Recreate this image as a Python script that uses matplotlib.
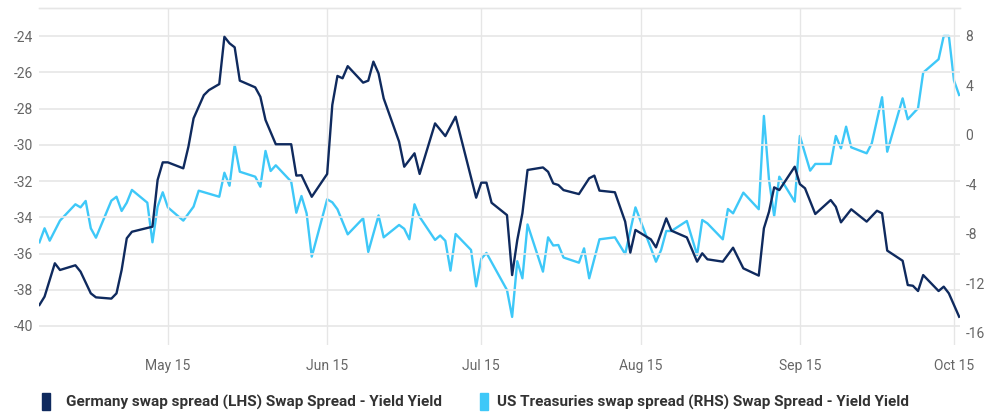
import matplotlib
matplotlib.use("Agg")
import matplotlib.pyplot as plt
import matplotlib.dates as mdates
from matplotlib.patches import Rectangle
import pandas as pd

germany_dates = [
    "2015-04-20", "2015-04-21", "2015-04-23", "2015-04-24", "2015-04-27", "2015-04-28",
    "2015-04-30", "2015-05-01", "2015-05-04", "2015-05-05", "2015-05-06", "2015-05-07",
    "2015-05-08", "2015-05-12", "2015-05-13", "2015-05-14", "2015-05-15", "2015-05-18",
    "2015-05-19", "2015-05-20", "2015-05-22", "2015-05-23", "2015-05-25", "2015-05-26",
    "2015-05-27", "2015-05-28", "2015-05-29", "2015-06-01", "2015-06-02", "2015-06-03",
    "2015-06-05", "2015-06-08", "2015-06-09", "2015-06-10", "2015-06-12", "2015-06-15",
    "2015-06-16", "2015-06-17", "2015-06-18", "2015-06-19", "2015-06-22", "2015-06-23",
    "2015-06-24", "2015-06-25", "2015-06-26", "2015-06-29", "2015-06-30", "2015-07-02",
    "2015-07-03", "2015-07-06", "2015-07-08", "2015-07-10", "2015-07-14", "2015-07-15",
    "2015-07-16", "2015-07-17", "2015-07-20", "2015-07-21", "2015-07-22", "2015-07-23",
    "2015-07-24", "2015-07-27", "2015-07-28", "2015-07-29", "2015-07-30", "2015-07-31",
    "2015-08-03", "2015-08-05", "2015-08-06", "2015-08-07", "2015-08-10", "2015-08-12",
    "2015-08-13", "2015-08-14", "2015-08-17", "2015-08-18", "2015-08-20", "2015-08-21",
    "2015-08-24", "2015-08-26", "2015-08-27", "2015-08-28", "2015-08-31", "2015-09-02",
    "2015-09-04", "2015-09-07", "2015-09-08", "2015-09-09", "2015-09-10", "2015-09-11",
    "2015-09-14", "2015-09-15", "2015-09-16", "2015-09-18", "2015-09-21", "2015-09-22",
    "2015-09-23", "2015-09-25", "2015-09-28", "2015-09-30", "2015-10-01", "2015-10-02",
    "2015-10-05", "2015-10-06", "2015-10-07", "2015-10-08", "2015-10-09", "2015-10-12",
    "2015-10-13", "2015-10-14", "2015-10-16",
]
germany_values = [
    -38.84, -38.38, -36.54, -36.91, -36.65, -37.00,
    -38.20, -38.42, -38.49, -38.20, -36.91, -35.16,
    -34.80, -34.52, -31.94, -30.97, -30.97, -31.30,
    -30.10, -28.54, -27.26, -26.98, -26.65, -24.04,
    -24.40, -24.62, -26.46, -26.83, -27.35, -28.63,
    -29.97, -29.97, -31.70, -31.68, -32.87, -31.61,
    -27.80, -26.20, -26.33, -25.66, -26.57, -26.46,
    -25.41, -26.06, -27.44, -29.83, -31.21, -30.47,
    -31.61, -28.82, -29.52, -28.45, -32.92, -32.09,
    -32.09, -33.20, -33.88, -37.19, -35.26, -33.78,
    -31.39, -31.25, -31.49, -32.13, -32.22, -32.50,
    -32.72, -31.85, -31.70, -32.53, -32.62, -34.24,
    -35.95, -34.70, -35.22, -35.66, -34.06, -34.74,
    -35.11, -36.45, -35.99, -36.32, -36.45, -35.68,
    -36.82, -37.22, -34.61, -33.69, -32.35, -32.50,
    -31.21, -32.17, -32.40, -33.82, -33.05, -33.42,
    -34.28, -33.56, -34.24, -33.64, -33.78, -35.84,
    -36.40, -37.74, -37.78, -38.07, -37.19, -38.07,
    -37.83, -38.20, -39.49,
]

us_dates = [
    "2015-04-20", "2015-04-21", "2015-04-22", "2015-04-24", "2015-04-27", "2015-04-28",
    "2015-04-29", "2015-04-30", "2015-05-01", "2015-05-04", "2015-05-05", "2015-05-06",
    "2015-05-07", "2015-05-08", "2015-05-11", "2015-05-12", "2015-05-13", "2015-05-14",
    "2015-05-15", "2015-05-18", "2015-05-20", "2015-05-21", "2015-05-25", "2015-05-26",
    "2015-05-27", "2015-05-28", "2015-05-29", "2015-06-01", "2015-06-02", "2015-06-03",
    "2015-06-04", "2015-06-05", "2015-06-08", "2015-06-09", "2015-06-10", "2015-06-11",
    "2015-06-12", "2015-06-15", "2015-06-16", "2015-06-17", "2015-06-19", "2015-06-22",
    "2015-06-23", "2015-06-25", "2015-06-26", "2015-06-29", "2015-06-30", "2015-07-01",
    "2015-07-02", "2015-07-03", "2015-07-06", "2015-07-07", "2015-07-08", "2015-07-09",
    "2015-07-10", "2015-07-13", "2015-07-14", "2015-07-15", "2015-07-16", "2015-07-20",
    "2015-07-21", "2015-07-22", "2015-07-23", "2015-07-24", "2015-07-27", "2015-07-28",
    "2015-07-29", "2015-07-30", "2015-07-31", "2015-08-03", "2015-08-04", "2015-08-05",
    "2015-08-07", "2015-08-10", "2015-08-12", "2015-08-14", "2015-08-18", "2015-08-19",
    "2015-08-20", "2015-08-21", "2015-08-24", "2015-08-26", "2015-08-27", "2015-08-28",
    "2015-08-31", "2015-09-01", "2015-09-02", "2015-09-04", "2015-09-07", "2015-09-08",
    "2015-09-09", "2015-09-10", "2015-09-11", "2015-09-12", "2015-09-14", "2015-09-15",
    "2015-09-16", "2015-09-17", "2015-09-18", "2015-09-21", "2015-09-22", "2015-09-23",
    "2015-09-24", "2015-09-25", "2015-09-28", "2015-09-29", "2015-10-01", "2015-10-02",
    "2015-10-05", "2015-10-06", "2015-10-08", "2015-10-09", "2015-10-12", "2015-10-13",
    "2015-10-14", "2015-10-15", "2015-10-16",
]
us_values = [
    -8.67, -7.54, -8.54, -6.92, -5.60, -5.85,
    -5.33, -7.54, -8.30, -5.31, -4.99, -6.14,
    -5.47, -4.44, -5.47, -8.67, -5.79, -4.63,
    -5.85, -6.92, -5.79, -4.50, -4.99, -3.05,
    -4.10, -0.81, -2.97, -3.37, -4.18, -1.29,
    -2.91, -2.45, -3.77, -6.28, -4.93, -6.33,
    -9.83, -5.20, -5.44, -6.00, -8.03, -6.73,
    -9.45, -6.50, -8.27, -7.27, -7.58, -8.43,
    -5.60, -6.62, -8.48, -8.12, -8.55, -10.96,
    -8.00, -9.29, -12.23, -10.00, -9.53, -12.53,
    -14.70, -10.20, -11.58, -7.23, -11.04, -8.27,
    -8.93, -8.89, -9.90, -10.32, -9.16, -11.58,
    -8.43, -8.27, -9.62, -5.85, -10.24, -9.29,
    -7.76, -7.76, -6.95, -9.70, -6.87, -7.14,
    -8.43, -5.98, -6.33, -4.66, -6.00, 1.54,
    -3.64, -6.55, -3.37, -4.04, -5.39, -0.08,
    -1.50, -2.88, -2.34, -2.34, -0.08, -1.08,
    0.67, -1.00, -1.48, -0.67, 3.05, -1.35,
    2.96, 1.27, 2.16, 5.04, 6.12, 8.00,
    8.00, 4.39, 3.23,
]

tick_dates = ["2015-05-15", "2015-06-15", "2015-07-15", "2015-08-15", "2015-09-15", "2015-10-15"]
tick_labels = ["May 15", "Jun 15", "Jul 15", "Aug 15", "Sep 15", "Oct 15"]
left_ticks = [-24, -26, -28, -30, -32, -34, -36, -38, -40]
right_ticks = [8, 4, 0, -4, -8, -12, -16]
series_names = ["Germany swap spread (LHS) Swap Spread - Yield Yield",
                "US Treasuries swap spread (RHS) Swap Spread - Yield Yield"]

DARK = "#0f2a5e"
LIGHT = "#3ec8f8"
GRID = "#e6e6e6"
LABEL = "#666666"
FONT = ["Roboto", "DejaVu Sans"]

W, H = 992, 412
fig = plt.figure(figsize=(W / 100, H / 100), dpi=100)
x0, x1, y0, y1 = 39, 960, 8, 345
ax = fig.add_axes([x0 / W, 1 - y1 / H, (x1 - x0) / W, (y1 - y0) / H])
ax2 = ax.twinx()

gd = pd.to_datetime(germany_dates)
ud = pd.to_datetime(us_dates)

ax.plot(gd, germany_values, color=DARK, lw=1.7, zorder=3, solid_joinstyle="round")
ax2.plot(ud, us_values, color=LIGHT, lw=1.7, zorder=3, solid_joinstyle="round")
ax.set_zorder(ax2.get_zorder() + 1)
ax.patch.set_visible(False)

ax.set_xlim(pd.Timestamp("2015-04-19 22:00"), pd.Timestamp("2015-10-16 04:00"))
ax.set_ylim(-41.05, -22.45)
ax2.set_ylim(-16.97, 10.26)

ax.set_yticks(left_ticks)
ax.set_yticklabels([str(v) for v in left_ticks])
ax2.set_yticks(right_ticks)
ax2.set_yticklabels([str(v) for v in right_ticks])
ax.set_xticks(pd.to_datetime(tick_dates))
ax.set_xticklabels(tick_labels)

ax.grid(axis="y", color=GRID, lw=1.2)
ax.grid(axis="x", color=GRID, lw=1.0)
ax.set_axisbelow(True)
for a in (ax, ax2):
    for s in ("left", "right", "bottom"):
        a.spines[s].set_visible(False)
    a.spines["top"].set_color(GRID)
    a.spines["top"].set_linewidth(1.0)

ax.tick_params(axis="y", length=0, pad=4, labelsize=10, labelcolor=LABEL)
ax2.tick_params(axis="y", length=0, pad=4, labelsize=10, labelcolor=LABEL)
ax.tick_params(axis="x", length=0, pad=10, labelsize=10, labelcolor=LABEL)
for lab in ax.get_yticklabels() + ax2.get_yticklabels() + ax.get_xticklabels():
    lab.set_family(FONT)

# legend
fig.patches.append(Rectangle((42 / W, 1 - 410 / H), 8 / W, 17 / H, transform=fig.transFigure,
                             color=DARK, zorder=5))
fig.text(66 / W, 1 - 402 / H, series_names[0], fontsize=11, fontweight="bold",
         color="#333333", va="center", ha="left", family=FONT)
fig.patches.append(Rectangle((480 / W, 1 - 410 / H), 8 / W, 17 / H, transform=fig.transFigure,
                             color=LIGHT, zorder=5))
fig.text(497 / W, 1 - 402 / H, series_names[1], fontsize=11, fontweight="bold",
         color="#333333", va="center", ha="left", family=FONT)

fig.savefig("out.png", dpi=100)
